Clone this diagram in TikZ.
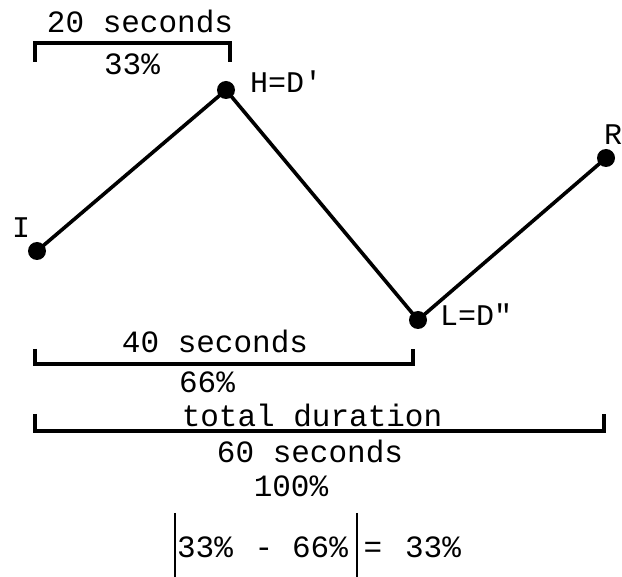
\documentclass[tikz,border=0pt]{standalone}
\usepackage{fontspec}
\newfontfamily\tw{Liberation Mono}
\begin{document}
\begin{tikzpicture}[x=1pt,y=-1pt,
  txt/.style={inner sep=0pt,anchor=base,font=\tw\fontsize{31}{31}\selectfont},
  lbl/.style={inner sep=0pt,anchor=base west,font=\tw\fontsize{30}{30}\selectfont},
  dot/.style={circle,fill=black,inner sep=0pt,minimum size=18pt},
  seg/.style={line width=3.6pt,line join=round},
  brk/.style={line width=3.4pt,line join=miter}]
\useasboundingbox (0,0) rectangle (622,577);
% points
\node[dot] (I) at (37,251) {};
\node[dot] (H) at (226,90) {};
\node[dot] (L) at (418,320) {};
\node[dot] (R) at (606,158) {};
\draw[seg] (I.center) -- (H.center) -- (L.center) -- (R.center);
% point labels
\node[lbl] (tI) at (12,238) {I};
\node[lbl] (tH) at (250,93) {H=D'};
\node[lbl] (tL) at (440,326) {L=D"};
\node[lbl] (tR) at (604,145) {R};
% top bracket
\coordinate (a1) at (35,62);
\coordinate (a2) at (35,43);
\coordinate (a3) at (230,43);
\coordinate (a4) at (230,62);
\draw[brk] (a1) -- (a2) -- (a3) -- (a4);
\node[txt] (t20) at (140,33) {20 seconds};
\node[txt] (p33) at (132,75) {33\%};
% 40 seconds bracket
\coordinate (b1) at (35,349);
\coordinate (b2) at (35,364);
\coordinate (b3) at (413,364);
\coordinate (b4) at (413,349);
\draw[brk] (b1) -- (b2) -- (b3) -- (b4);
\node[txt] (t40) at (215,353) {40 seconds};
\node[txt] (p66) at (207,393) {66\%};
% total bracket
\coordinate (c1) at (35,414);
\coordinate (c2) at (35,431);
\coordinate (c3) at (604,431);
\coordinate (c4) at (604,414);
\draw[brk] (c1) -- (c2) -- (c3) -- (c4);
\node[txt] (ttot) at (312,427) {total duration};
\node[txt] (t60) at (310,463) {60 seconds};
\node[txt] (p100) at (291,497) {100\%};
% formula
\coordinate (v1) at (175,513);
\coordinate (v2) at (175,577);
\coordinate (w1) at (357,513);
\coordinate (w2) at (357,577);
\draw[line width=2.6pt] (v1) -- (v2);
\draw[line width=2.6pt] (w1) -- (w2);
\node[txt] (f1) at (205,558) {33\%};
\node[txt] (f2) at (264,558) {-};
\node[txt] (f3) at (320,558) {66\%};
\node[txt] (f4) at (373,558) {=};
\node[txt] (f5) at (433,558) {33\%};
\end{tikzpicture}
\end{document}
